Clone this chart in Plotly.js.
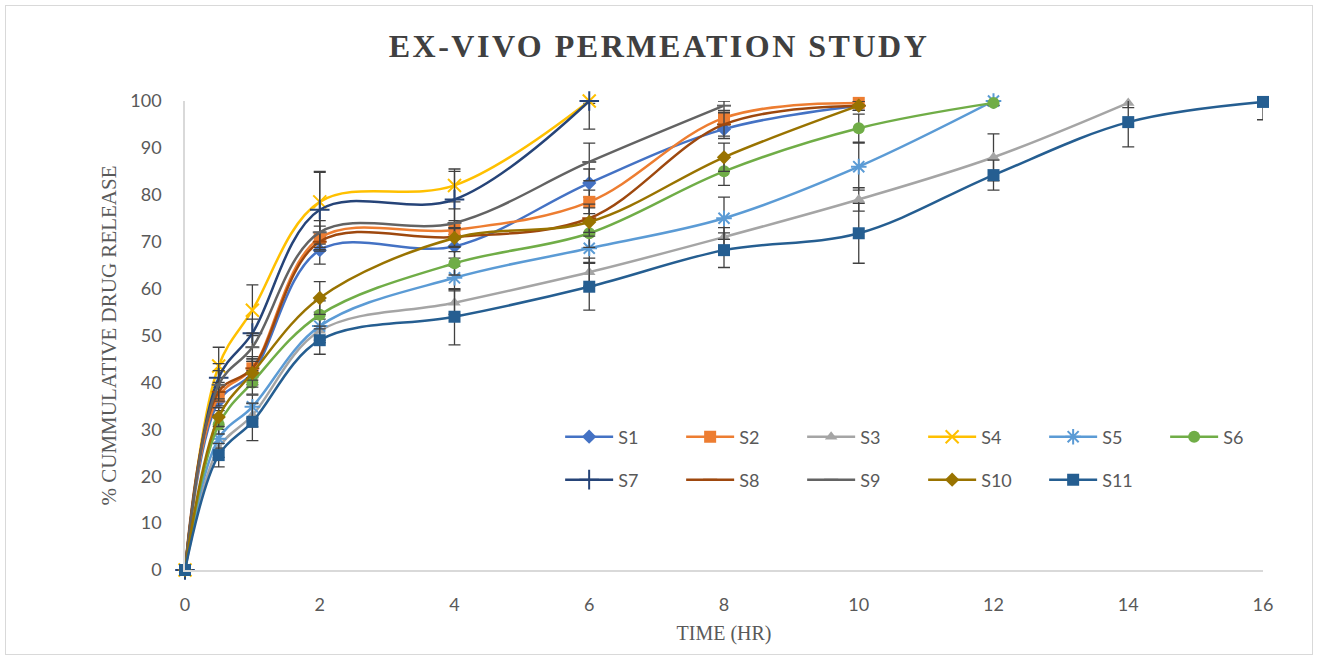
<!DOCTYPE html>
<html>
<head>
<meta charset="utf-8">
<script src="https://cdn.plot.ly/plotly-3.0.1.min.js"></script>
<style>
html,body{margin:0;padding:0;background:#fff;}
#wrap{position:relative;width:1318px;height:660px;}
#chart{width:1318px;height:660px;}
#frame{position:absolute;left:5px;top:5px;width:1306px;height:648px;border:1px solid #d9d9d9;pointer-events:none;}
</style>
</head>
<body>
<div id="wrap"><div id="chart"></div><div id="frame"></div></div>
<script>
// Time points (hr)
const time = [0, 0.5, 1, 2, 4, 6, 8, 10, 12, 14, 16];
const seriesNames = ["S1","S2","S3","S4","S5","S6","S7","S8","S9","S10","S11"];

// % cumulative drug release per formulation
const s1  = [0, 36, 42, 68.2, 69, 82.5, 94, 99];
const s2  = [0, 37, 43, 70.8, 72.5, 78.5, 96.4, 99.6];
const s3  = [0, 26, 33, 51, 57, 63.5, 71, 79, 88, 99.6];
const s4  = [0, 43.5, 55.4, 78.5, 82, 100];
const s5  = [0, 28, 34.8, 52, 62.3, 68.6, 75, 86, 100];
const s6  = [0, 31, 40, 54.4, 65.4, 71.8, 85, 94.2, 99.6];
const s7  = [0, 41, 50.5, 76.8, 79, 100];
const s8  = [0, 38, 43, 70, 71, 75, 95, 99];
const s9  = [0, 39.5, 47.5, 72, 74, 87, 99];
const s10 = [0, 32.6, 42, 58, 70.8, 74.2, 88, 99];
const s11 = [0, 24.5, 31.6, 49, 54, 60.4, 68.2, 71.8, 84.2, 95.5, 99.8];

// Error bar (± SD) per formulation
const e1  = [0, 2, 2.5, 3, 2.5, 3, 2, 1];
const e2  = [0, 2, 2, 2.5, 2, 2.5, 1.5, 0.5];
const e3  = [0, 2, 2.5, 2.5, 2.5, 3, 2, 2.5, 5, 1];
const e4  = [0, 4, 5.4, 6.5, 3.5, 0.5];
const e5  = [0, 2, 2.5, 3, 2.5, 3, 4.5, 5, 1];
const e6  = [0, 2, 2.5, 3, 2.5, 3, 3, 3, 0.5];
const e7  = [0, 3, 3, 8, 6, 6];
const e8  = [0, 2, 2.5, 2, 2, 3, 2.5, 1];
const e9  = [0, 3, 3, 2.5, 3, 4, 1];
const e10 = [0, 2, 3, 3.5, 2, 3, 3, 1];
const e11 = [0, 2.5, 4, 3, 6, 5, 3.7, 6.4, 3.2, 5.3, 3.8];

const values = [s1,s2,s3,s4,s5,s6,s7,s8,s9,s10,s11];
const errors = [e1,e2,e3,e4,e5,e6,e7,e8,e9,e10,e11];
const colors = ["#4472C4","#ED7D31","#A5A5A5","#FFC000","#5B9BD5","#70AD47","#264478","#9E480E","#636363","#997300","#255E91"];
const symbols = ["diamond","square","triangle-up","x-thin","asterisk","circle","cross-thin","line-ew","line-ew","diamond","square"];
const sizes = [11,12,11,13,13,12,14,10,10,11,12];

const traces = values.map((v, i) => ({
  type: "scatter",
  mode: "lines+markers",
  name: seriesNames[i],
  x: time.slice(0, v.length),
  y: v,
  legend: i < 6 ? "legend" : "legend2",
  line: {color: colors[i], width: 2.5, shape: "spline", smoothing: 1},
  marker: {symbol: symbols[i], size: sizes[i], color: colors[i],
           line: {color: colors[i], width: (symbols[i].indexOf("thin")>=0 || symbols[i]==="asterisk" || symbols[i]==="line-ew") ? 2 : 0}},
  error_y: {type: "data", array: errors[i], visible: true, color: "#404040", thickness: 1.3, width: 6},
  cliponaxis: false
}));

const legendFont = {family: "Lato, 'Open Sans', sans-serif", size: 18, color: "#595959"};
const layout = {
  width: 1318, height: 660,
  margin: {l: 185, r: 55, t: 101, b: 90},
  paper_bgcolor: "#ffffff", plot_bgcolor: "#ffffff",
  title: {text: "EX-VIVO PERMEATION STUDY", x: 0.5, xanchor: "center", y: 0.93, yanchor: "middle",
          font: {family: "'Liberation Serif', serif", size: 32, color: "#404040", weight: "bold"}},
  xaxis: {range: [0, 16], tickvals: [0,2,4,6,8,10,12,14,16], showgrid: false, zeroline: false,
          showline: true, linecolor: "#d9d9d9", linewidth: 1.5, ticks: "",
          ticklabelstandoff: 18,
          tickfont: {family: "Lato, sans-serif", size: 18, color: "#595959"},
          title: {text: "TIME (HR)", standoff: 12, font: {family: "'Liberation Serif', serif", size: 20, color: "#595959"}}},
  yaxis: {range: [0, 100], dtick: 10, showgrid: false, zeroline: false,
          showline: true, linecolor: "#d9d9d9", linewidth: 1.5, ticks: "",
          ticklabelstandoff: 18,
          tickfont: {family: "Lato, sans-serif", size: 18, color: "#595959"},
          title: {text: "% CUMMULATIVE DRUG RELEASE", standoff: 8, font: {family: "'Liberation Serif', serif", size: 21, color: "#595959"}}},
  showlegend: true,
  legend: {orientation: "h", x: 0.348, xanchor: "left", y: 0.2836, yanchor: "middle", itemwidth: 48,
           entrywidth: 58, entrywidthmode: "pixels", font: legendFont, bgcolor: "rgba(0,0,0,0)"},
  legend2: {orientation: "h", x: 0.348, xanchor: "left", y: 0.192, yanchor: "middle", itemwidth: 48,
           entrywidth: 58, entrywidthmode: "pixels", font: legendFont, bgcolor: "rgba(0,0,0,0)"}
};

Plotly.newPlot("chart", traces, layout, {displayModeBar: false, responsive: false}).then(gd => {
  const t = gd.querySelector(".gtitle");
  if (t) { t.style.letterSpacing = "2.5px"; }
});
</script>
</body>
</html>
